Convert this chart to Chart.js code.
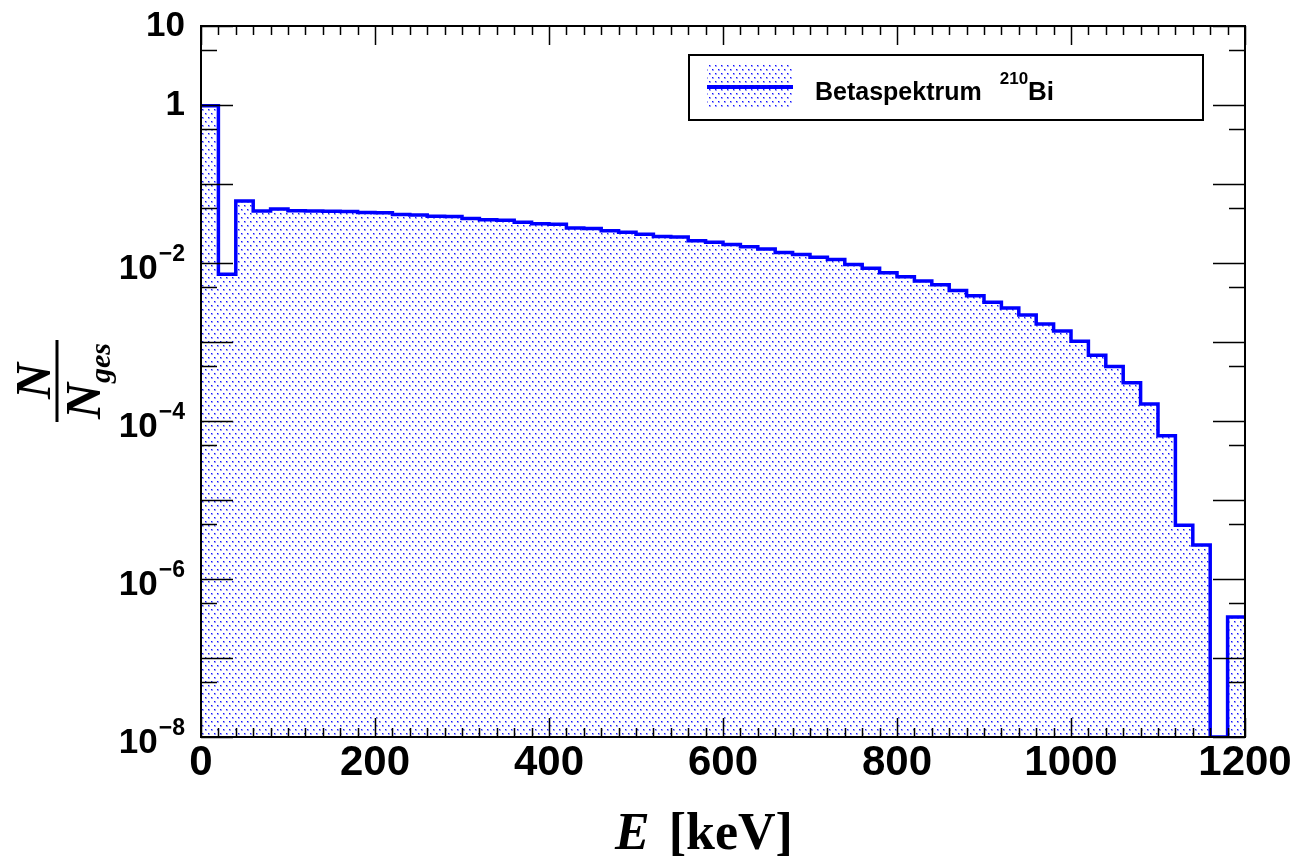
<!DOCTYPE html>
<html>
<head>
<meta charset="utf-8">
<script src="https://cdn.jsdelivr.net/npm/chart.js@4.4.0/dist/chart.umd.min.js"></script>
<style>
  html, body { margin: 0; padding: 0; background: #fff; }
  #wrap { width: 1295px; height: 859px; }
</style>
</head>
<body>
<div id="wrap"><canvas id="chart" width="1295" height="859"></canvas></div>
<script>
// Betaspektrum 210Bi - histogram, 20 keV bins

const binLowEdges = [
    0, 20, 40, 60, 80, 100, 120, 140, 160, 180,
    200, 220, 240, 260, 280, 300, 320, 340, 360, 380,
    400, 420, 440, 460, 480, 500, 520, 540, 560, 580,
    600, 620, 640, 660, 680, 700, 720, 740, 760, 780,
    800, 820, 840, 860, 880, 900, 920, 940, 960, 980,
    1000, 1020, 1040, 1060, 1080, 1100, 1120, 1140, 1160, 1180
];
const xUpperEdge = 1200;

const binContent = [
    0.98, 0.0072, 0.061, 0.0455, 0.0483, 0.046, 0.0455, 0.0452, 0.0448, 0.0435,
    0.0432, 0.041, 0.0405, 0.039, 0.0388, 0.0366, 0.0352, 0.0348, 0.0327, 0.0313,
    0.031, 0.0277, 0.0273, 0.0256, 0.0245, 0.0231, 0.0216, 0.0213, 0.0191, 0.0183,
    0.0172, 0.016, 0.015, 0.0136, 0.0128, 0.0118, 0.0111, 0.0096, 0.0086, 0.0075,
    0.0067, 0.0059, 0.0053, 0.0045, 0.00386, 0.00318, 0.0027, 0.0022, 0.00169, 0.00138,
    0.00102, 0.00068, 0.00049, 0.000305, 0.000164, 0.000065, 0.0000048, 0.0000027, 0, 0.00000033
];

const yMin = 1e-8;
const yMax = 10;

const xMajorTicks = [0, 200, 400, 600, 800, 1000, 1200];
const xTickLabels = ['0', '200', '400', '600', '800', '1000', '1200'];

const yMajorTicks = [10, 1, 1e-1, 1e-2, 1e-3, 1e-4, 1e-5, 1e-6, 1e-7, 1e-8];
const yMinorTicks = [5, 5e-1, 5e-2, 5e-3, 5e-4, 5e-5, 5e-6, 5e-7, 5e-8];
const yLabelValues = [10, 1, 1e-2, 1e-4, 1e-6, 1e-8];
const yLabelBase = ['10', '1', '10', '10', '10', '10'];
const yLabelExp = ['', '', '\u22122', '\u22124', '\u22126', '\u22128'];

const legendText = 'Betaspektrum';
const legendMass = '210';
const legendElement = 'Bi';

const BLUE = '#0000ff';
const SANS = '"Liberation Sans", Arial, Helvetica, sans-serif';
const SERIF = '"Liberation Serif", "Times New Roman", serif';

// dotted fill pattern (ROOT style)
function makeDotPattern(ctx) {
    const p = document.createElement('canvas');
    p.width = 6;
    p.height = 8;
    const c = p.getContext('2d');
    const dots = [[1, 1], [4, 5]];
    dots.forEach(([x, y]) => {
        c.fillStyle = '#a0a0ff';
        c.fillRect(x, y, 2, 2);
        c.fillStyle = '#1010ff';
        c.fillRect(x, y, 1, 1);
    });
    return ctx.createPattern(p, 'repeat');
}

const rootStyle = {
    id: 'rootStyle',
    afterDraw(chart) {
        const ctx = chart.ctx;
        const x = chart.scales.x;
        const y = chart.scales.y;
        const a = chart.chartArea;

        ctx.save();

        // frame
        ctx.strokeStyle = '#000';
        ctx.lineWidth = 2;
        ctx.strokeRect(a.left, a.top, a.right - a.left, a.bottom - a.top);

        // x ticks, bottom and top
        ctx.lineWidth = 1.5;
        ctx.beginPath();
        binLowEdges.concat([xUpperEdge]).forEach(v => {
            const px = Math.round(x.getPixelForValue(v)) + 0.5;
            const len = xMajorTicks.includes(v) ? 19 : 9;
            ctx.moveTo(px, a.bottom); ctx.lineTo(px, a.bottom - len);
            ctx.moveTo(px, a.top); ctx.lineTo(px, a.top + len);
        });
        // y ticks, left and right
        yMajorTicks.forEach(v => {
            const py = Math.round(y.getPixelForValue(v)) + 0.5;
            ctx.moveTo(a.left, py); ctx.lineTo(a.left + 32, py);
            ctx.moveTo(a.right, py); ctx.lineTo(a.right - 32, py);
        });
        yMinorTicks.forEach(v => {
            const py = Math.round(y.getPixelForValue(v)) + 0.5;
            ctx.moveTo(a.left, py); ctx.lineTo(a.left + 16, py);
            ctx.moveTo(a.right, py); ctx.lineTo(a.right - 16, py);
        });
        ctx.stroke();

        // x labels
        ctx.fillStyle = '#000';
        ctx.font = 'bold 42px ' + SANS;
        ctx.textAlign = 'center';
        ctx.textBaseline = 'middle';
        xMajorTicks.forEach((v, i) => {
            ctx.fillText(xTickLabels[i], x.getPixelForValue(v), a.bottom + 26);
        });

        // y labels with exponent
        const rightX = a.left - 16;
        yLabelValues.forEach((v, i) => {
            const py = y.getPixelForValue(v);
            ctx.textAlign = 'right';
            ctx.textBaseline = 'middle';
            if (yLabelExp[i]) {
                ctx.font = 'bold 23px ' + SANS;
                const ew = ctx.measureText(yLabelExp[i]).width;
                ctx.fillText(yLabelExp[i], rightX, py - 8);
                ctx.font = 'bold 35px ' + SANS;
                ctx.fillText(yLabelBase[i], rightX - ew - 1, py + 6);
            } else {
                ctx.font = 'bold 35px ' + SANS;
                ctx.fillText(yLabelBase[i], rightX, py);
            }
        });

        // x title: E [keV]
        ctx.textBaseline = 'alphabetic';
        ctx.textAlign = 'left';
        const tx = 615;
        ctx.font = 'italic bold 52px ' + SERIF;
        const eW = ctx.measureText('E').width;
        ctx.fillText('E', tx, 849);
        ctx.font = 'bold 52px ' + SERIF;
        ctx.fillText(' [keV]', tx + eW + 6, 849);

        // y title: N / N_ges, rotated
        ctx.save();
        ctx.translate(57, 381);
        ctx.rotate(-Math.PI / 2);
        ctx.lineWidth = 3;
        ctx.beginPath();
        ctx.moveTo(-41, 0); ctx.lineTo(41, 0);
        ctx.stroke();
        ctx.textAlign = 'center';
        ctx.font = 'italic bold 50px ' + SERIF;
        ctx.fillText('N', 0, -7);
        ctx.textAlign = 'left';
        const nW = ctx.measureText('N').width;
        ctx.font = 'italic bold 30px ' + SERIF;
        const gW = ctx.measureText('ges').width;
        const dx = -(nW + gW) / 2;
        ctx.font = 'italic bold 50px ' + SERIF;
        ctx.fillText('N', dx, 43);
        ctx.font = 'italic bold 30px ' + SERIF;
        ctx.fillText('ges', dx + nW, 53);
        ctx.restore();

        // legend box
        ctx.fillStyle = '#fff';
        ctx.fillRect(689, 55, 514, 65);
        ctx.strokeStyle = '#000';
        ctx.lineWidth = 2;
        ctx.strokeRect(689, 55, 514, 65);
        const ds = chart.data.datasets[0];
        ctx.fillStyle = ds.backgroundColor;
        ctx.fillRect(707, 65, 86, 42);
        ctx.strokeStyle = ds.borderColor;
        ctx.lineWidth = 4;
        ctx.beginPath();
        ctx.moveTo(707, 87); ctx.lineTo(793, 87);
        ctx.stroke();
        ctx.fillStyle = '#000';
        ctx.textAlign = 'left';
        ctx.font = 'bold 25px ' + SANS;
        ctx.fillText(legendText, 815, 100);
        const bw = ctx.measureText(legendText).width + 18;
        ctx.font = 'bold 17px ' + SANS;
        ctx.fillText(legendMass, 815 + bw, 84);
        const mw = ctx.measureText(legendMass).width;
        ctx.font = 'bold 26px ' + SANS;
        ctx.fillText(legendElement, 815 + bw + mw, 100);

        ctx.restore();
    }
};

const canvas = document.getElementById('chart');
const ctx = canvas.getContext('2d');

// empty bins sit on the bottom of the log axis
const points = binLowEdges.map((e, i) => ({ x: e, y: Math.max(binContent[i], yMin) }));
points.push({ x: xUpperEdge, y: binContent[binContent.length - 1] });

new Chart(ctx, {
    type: 'line',
    data: {
        datasets: [{
            label: legendText + ' ' + legendMass + legendElement,
            data: points,
            stepped: true,
            fill: 'start',
            backgroundColor: makeDotPattern(ctx),
            borderColor: BLUE,
            borderWidth: 3.5,
            pointRadius: 0,
            tension: 0
        }]
    },
    options: {
        responsive: false,
        animation: false,
        layout: { padding: { left: 201, right: 50, top: 26, bottom: 122 } },
        plugins: { legend: { display: false }, tooltip: { enabled: false } },
        scales: {
            x: {
                type: 'linear', min: 0, max: xUpperEdge,
                ticks: { display: false },
                grid: { display: false },
                border: { display: false },
                afterFit: s => { s.height = 0; }
            },
            y: {
                type: 'logarithmic', min: yMin, max: yMax,
                ticks: { display: false },
                grid: { display: false },
                border: { display: false },
                afterFit: s => { s.width = 0; }
            }
        }
    },
    plugins: [rootStyle]
});
</script>
</body>
</html>
